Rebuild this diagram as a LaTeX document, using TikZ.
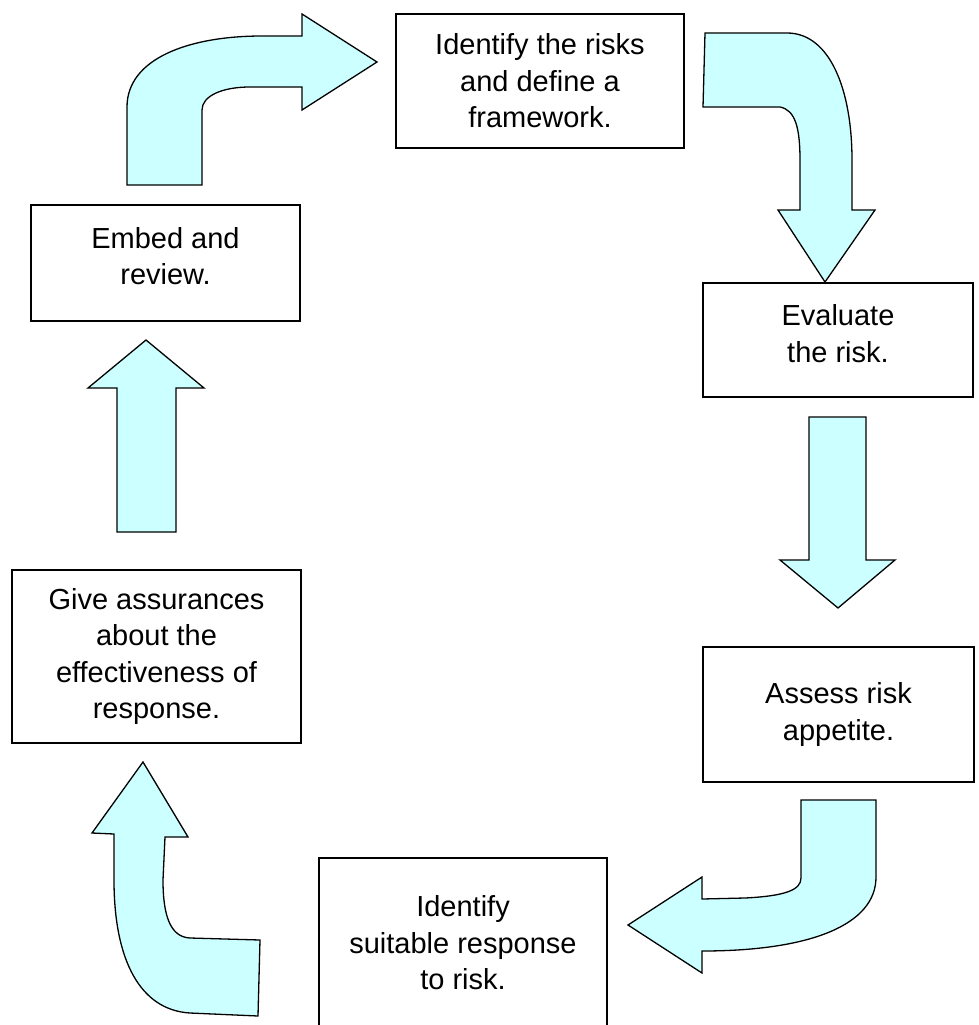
\documentclass[tikz,border=0pt]{standalone}
\usepackage{fontspec}
\setmainfont{Liberation Sans}
\definecolor{arrowfill}{HTML}{CCFFFF}
\tikzset{
  stage/.style={draw, rectangle, line width=1.5pt, align=center, font=\fontsize{29}{36.5}\selectfont},
  blockarrow/.style={draw, fill=arrowfill, line width=1.3pt, line join=miter}
}

\begin{document}
\begin{tikzpicture}[x=1pt, y=-1pt]
\useasboundingbox (0,0) rectangle (979,1025);
\clip (0,0) rectangle (979,1025);

% block arrows round the cycle
\draw[blockarrow] (127,185)--(127,107) .. controls (127,58) and (190,36) .. (262,36)--(302,36)--(302,14)--(377,62)--(302,110)--(302,87)--(250,87) .. controls (222,87) and (202,96) .. (202,110)--(202,185)--cycle;
\draw[blockarrow] (705,33)--(787,33) .. controls (830,33) and (852,90) .. (852,160)--(852,210)--(875,210)--(825,282)--(778,210)--(800,210)--(800,160) .. controls (800,127) and (795,110) .. (780,107)--(703,107)--cycle;
\draw[blockarrow] (809,417)--(866,417)--(866,560)--(895,560)--(838,608)--(780,560)--(809,560)--cycle;
\draw[blockarrow] (801,800)--(876,800)--(876,877) .. controls (876,925) and (810,951) .. (702,951)--(702,973)--(628,925)--(702,877)--(702,899)--(745,898) .. controls (785,896) and (801,890) .. (801,878)--cycle;
\draw[blockarrow] (258,1016)--(190,1013) .. controls (140,1010) and (114,960) .. (114,880)--(114,834)--(92,833)--(143,762)--(188,837)--(165,837)--(163,880) .. controls (163,915) and (170,937) .. (190,938)--(260,940)--cycle;
\draw[blockarrow] (117,532)--(117,388)--(88,388)--(146,340)--(204,388)--(176,388)--(176,532)--cycle;

% stages
\node (frame) at (540,81) [stage, minimum width=288pt, minimum height=134pt] {Identify the risks\\and define a\\framework.};
\node (evaluate) at (838,340) [stage, minimum width=270pt, minimum height=114pt, text depth=13pt] {Evaluate\\the risk.};
\node (appetite) at (838.5,714.5) [stage, minimum width=271pt, minimum height=135pt] {Assess risk\\appetite.};
\node (response) at (463,943) [stage, minimum width=288pt, minimum height=170pt] {Identify\\suitable response\\to risk.};
\node (assure) at (156.5,656.5) [stage, minimum width=289pt, minimum height=173pt] {Give assurances\\about the\\effectiveness of\\response.};
\node (embed) at (165.5,263) [stage, minimum width=269pt, minimum height=116pt, text depth=14pt] {Embed and\\review.};
\end{tikzpicture}
\end{document}
